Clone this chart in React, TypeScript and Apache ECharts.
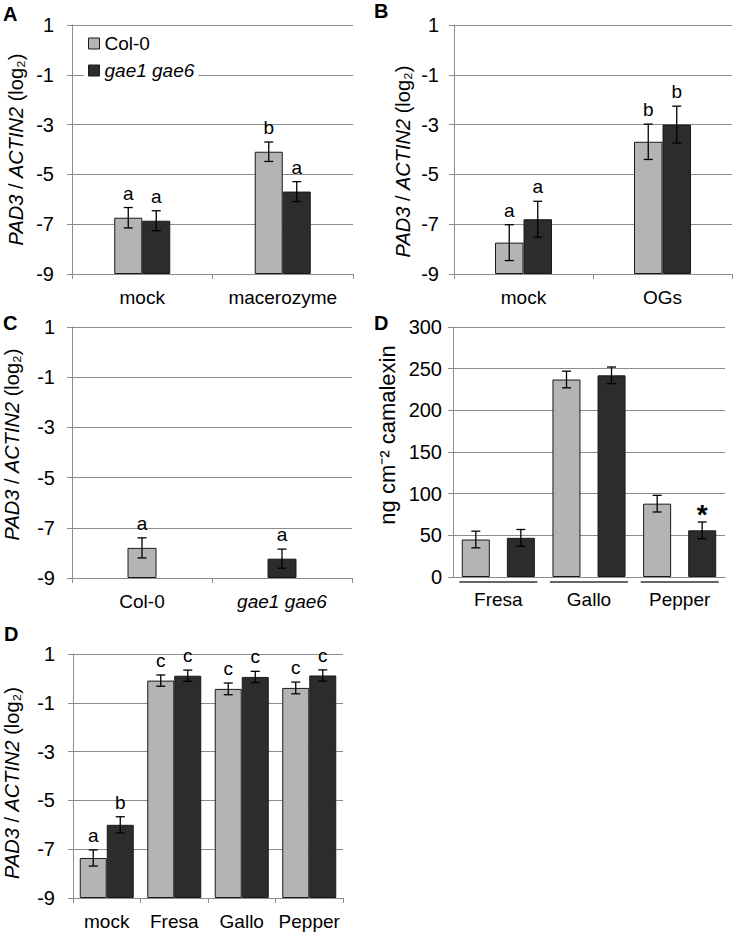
import React, { useEffect, useRef } from 'react';
import * as echarts from 'echarts';

// ---------- data ----------
const LOG_MIN = -9;
const LOG_MAX = 1;
const LOG_STEP = 2;

const A_CATEGORIES = ['mock', 'macerozyme'];
const A_COL0 = [-6.74, -4.09];
const A_COL0_ERR = [0.41, 0.39];
const A_GAE = [-6.86, -5.69];
const A_GAE_ERR = [0.4, 0.4];
const A_COL0_LETTERS = ['a', 'b'];
const A_GAE_LETTERS = ['a', 'a'];

const B_CATEGORIES = ['mock', 'OGs'];
const B_COL0 = [-7.74, -3.69];
const B_COL0_ERR = [0.72, 0.71];
const B_GAE = [-6.8, -3.0];
const B_GAE_ERR = [0.72, 0.74];
const B_COL0_LETTERS = ['a', 'b'];
const B_GAE_LETTERS = ['a', 'b'];

const C_CATEGORIES = ['Col-0', 'gae1 gae6'];
const C_VALUES = [-7.8, -8.23];
const C_ERR = [0.4, 0.38];
const C_LETTERS = ['a', 'a'];

const D1_CATEGORIES = ['Fresa', 'Gallo', 'Pepper'];
const D1_TICKS = [0, 50, 100, 150, 200, 250, 300];
const D1_COL0 = [45, 237, 88];
const D1_COL0_ERR = [10, 10, 10];
const D1_GAE = [47, 242, 56];
const D1_GAE_ERR = [10, 10, 10];
const D1_COL0_MARKS = ['', '', ''];
const D1_GAE_MARKS = ['', '', '*'];

const D2_CATEGORIES = ['mock', 'Fresa', 'Gallo', 'Pepper'];
const D2_COL0 = [-7.36, -0.09, -0.43, -0.39];
const D2_COL0_ERR = [0.33, 0.23, 0.24, 0.24];
const D2_GAE = [-6.0, 0.11, 0.06, 0.12];
const D2_GAE_ERR = [0.33, 0.23, 0.23, 0.23];
const D2_COL0_LETTERS = ['a', 'c', 'c', 'c'];
const D2_GAE_LETTERS = ['b', 'c', 'c', 'c'];

const SERIES_NAMES = ['Col-0', 'gae1 gae6'];

// ---------- styles ----------
const FONT = "'Liberation Sans', Arial, sans-serif";
const LIGHT = '#b4b4b4';
const DARK = '#2c2c2c';
const BORDER = '#1a1a1a';
const GRID_GRAY = '#8c8c8c';
const FS = 19;
const TICK_FS = 20;
const NAME_FS = 20;

const shiftLog = (arr: (number | null)[]) =>
  arr.map((v) => (v == null ? '-' : +(v - LOG_MIN).toFixed(4)));

function logYAxis(gridIndex: number, nameGap: number, margin: number, namePad: number[]) {
  return {
    type: 'value',
    gridIndex,
    min: 0,
    max: LOG_MAX - LOG_MIN,
    interval: LOG_STEP,
    axisLabel: {
      formatter: (v: number) => String(v + LOG_MIN),
      fontSize: TICK_FS,
      color: '#000',
      fontFamily: FONT,
      margin,
    },
    axisLine: { show: true, lineStyle: { color: GRID_GRAY, width: 1 } },
    axisTick: { show: true, length: 5, lineStyle: { color: GRID_GRAY } },
    splitLine: { show: true, lineStyle: { color: GRID_GRAY, width: 1 } },
    name: '{i|PAD3} / {i|ACTIN2} (log₂)',
    nameLocation: 'middle',
    nameGap,
    nameRotate: 90,
    nameTextStyle: {
      fontSize: NAME_FS,
      color: '#000',
      fontFamily: FONT,
      padding: namePad,
      rich: { i: { fontStyle: 'italic', fontSize: NAME_FS, fontFamily: FONT, color: '#000' } },
    },
  };
}

function catXAxis(gridIndex: number, data: string[], showTick = true, margin = 14) {
  return {
    type: 'category',
    gridIndex,
    data,
    axisLabel: {
      fontSize: FS,
      color: '#000',
      fontFamily: FONT,
      margin,
      interval: 0,
      formatter: (v: string) => (v === 'gae1 gae6' ? `{i|${v}}` : v),
      rich: { i: { fontStyle: 'italic', fontSize: FS, fontFamily: FONT, color: '#000' } },
    },
    axisLine: { show: true, lineStyle: { color: GRID_GRAY, width: 1 } },
    axisTick: { show: showTick, length: 5, lineStyle: { color: GRID_GRAY } },
    splitLine: { show: false },
  };
}

function barSeries(name: string, data: any[], gridIndex: number, color: string, barWidth: number, barGap: string) {
  return {
    type: 'bar',
    name,
    xAxisIndex: gridIndex,
    yAxisIndex: gridIndex,
    data,
    barWidth,
    barGap,
    itemStyle: { color, borderColor: BORDER, borderWidth: 1 },
    z: 2,
  };
}

function errSeries(
  gridIndex: number,
  values: any[],
  errs: number[],
  labels: string[],
  offsetX: number,
  labelStyle: any = {},
  labelLift = 5,
) {
  const data = values.map((v, i) => (v === '-' ? null : [i, v, errs[i]])).filter((d) => d);
  const idxs = values.map((v, i) => (v === '-' ? -1 : i)).filter((i) => i >= 0);
  return {
    type: 'custom',
    xAxisIndex: gridIndex,
    yAxisIndex: gridIndex,
    clip: false,
    z: 5,
    data,
    renderItem: (params: any, api: any) => {
      const i = idxs[params.dataIndex];
      const cat = api.value(0);
      const v = api.value(1);
      const e = api.value(2);
      const top = api.coord([cat, v + e]);
      const bot = api.coord([cat, v - e]);
      const x = top[0] + offsetX;
      const cap = 4.5;
      const ls = { stroke: '#000', lineWidth: 1.3 };
      const children: any[] = [
        { type: 'line', shape: { x1: x, y1: top[1], x2: x, y2: bot[1] }, style: ls },
        { type: 'line', shape: { x1: x - cap, y1: top[1], x2: x + cap, y2: top[1] }, style: ls },
        { type: 'line', shape: { x1: x - cap, y1: bot[1], x2: x + cap, y2: bot[1] }, style: ls },
      ];
      const t = labels[i];
      if (t) {
        children.push({
          type: 'text',
          x,
          y: top[1] - labelLift,
          style: {
            text: t,
            fontSize: FS,
            fontFamily: FONT,
            fill: '#000',
            align: 'center',
            verticalAlign: 'bottom',
            ...labelStyle,
          },
        });
      }
      return { type: 'group', children };
    },
  };
}

function buildOption() {
  const grids = [
    { left: 72, top: 25, width: 281, height: 249 }, // A
    { left: 454, top: 25, width: 278, height: 249 }, // B
    { left: 72, top: 327, width: 280, height: 251 }, // C
    { left: 453, top: 327, width: 272, height: 250 }, // D (camalexin)
    { left: 73, top: 654, width: 270, height: 244 }, // D (bottom)
  ];

  const xAxes = [
    catXAxis(0, A_CATEGORIES),
    catXAxis(1, B_CATEGORIES),
    catXAxis(2, C_CATEGORIES),
    catXAxis(3, D1_CATEGORIES, false, 13),
    catXAxis(4, D2_CATEGORIES),
  ];

  const yAxes: any[] = [
    logYAxis(0, 46, 18, [0, 0, 0, 0]),
    logYAxis(1, 41, 15, [0, 24, 0, 0]),
    logYAxis(2, 50, 17, [0, 0, 0, 16]),
    {
      type: 'value',
      gridIndex: 3,
      min: D1_TICKS[0],
      max: D1_TICKS[D1_TICKS.length - 1],
      interval: D1_TICKS[1] - D1_TICKS[0],
      axisLabel: { fontSize: TICK_FS, color: '#000', fontFamily: FONT, margin: 11 },
      axisLine: { show: true, lineStyle: { color: GRID_GRAY, width: 1 } },
      axisTick: { show: true, length: 5, lineStyle: { color: GRID_GRAY } },
      splitLine: { show: true, lineStyle: { color: GRID_GRAY, width: 1 } },
      name: 'ng cm⁻² camalexin',
      nameLocation: 'middle',
      nameGap: 55,
      nameRotate: 90,
      nameTextStyle: { fontSize: 22, color: '#000', fontFamily: FONT, padding: [0, 0, 0, 34] },
    },
    logYAxis(4, 51, 18, [0, 14, 0, 0]),
  ];

  const series: any[] = [];
  // A
  series.push(barSeries(SERIES_NAMES[0], shiftLog(A_COL0), 0, LIGHT, 28, '0%'));
  series.push(barSeries(SERIES_NAMES[1], shiftLog(A_GAE), 0, DARK, 28, '0%'));
  series.push(errSeries(0, shiftLog(A_COL0), A_COL0_ERR, A_COL0_LETTERS, -14));
  series.push(errSeries(0, shiftLog(A_GAE), A_GAE_ERR, A_GAE_LETTERS, 14));
  // B
  series.push(barSeries(SERIES_NAMES[0], shiftLog(B_COL0), 1, LIGHT, 28.5, '0%'));
  series.push(barSeries(SERIES_NAMES[1], shiftLog(B_GAE), 1, DARK, 28.5, '0%'));
  series.push(errSeries(1, shiftLog(B_COL0), B_COL0_ERR, B_COL0_LETTERS, -14.25));
  series.push(errSeries(1, shiftLog(B_GAE), B_GAE_ERR, B_GAE_LETTERS, 14.25));
  // C
  const cCol = shiftLog([C_VALUES[0], null]);
  const cGae = shiftLog([null, C_VALUES[1]]);
  series.push(barSeries(SERIES_NAMES[0], cCol, 2, LIGHT, 29, '-100%'));
  series.push(barSeries(SERIES_NAMES[1], cGae, 2, DARK, 29, '-100%'));
  series.push(errSeries(2, shiftLog(C_VALUES), C_ERR, C_LETTERS, 0));
  // D camalexin
  series.push(barSeries(SERIES_NAMES[0], D1_COL0, 3, LIGHT, 28, '61%'));
  series.push(barSeries(SERIES_NAMES[1], D1_GAE, 3, DARK, 28, '61%'));
  series.push(errSeries(3, D1_COL0, D1_COL0_ERR, D1_COL0_MARKS, -22.5));
  series.push(
    errSeries(3, D1_GAE, D1_GAE_ERR, D1_GAE_MARKS, 22.5, { fontSize: 28, fontWeight: 'bold', verticalAlign: 'middle' }, 8),
  );
  series.push({
    type: 'custom',
    xAxisIndex: 3,
    yAxisIndex: 3,
    clip: false,
    z: 5,
    data: D1_CATEGORIES.map((_, i) => [i, 0]),
    renderItem: (params: any, api: any) => {
      const p = api.coord([api.value(0), 0]);
      return {
        type: 'line',
        shape: { x1: p[0] - 39, y1: p[1] + 5, x2: p[0] + 39, y2: p[1] + 5 },
        style: { stroke: '#333', lineWidth: 1.5 },
      };
    },
  });
  // D bottom
  series.push(barSeries(SERIES_NAMES[0], shiftLog(D2_COL0), 4, LIGHT, 27, '0%'));
  series.push(barSeries(SERIES_NAMES[1], shiftLog(D2_GAE), 4, DARK, 27, '0%'));
  series.push(errSeries(4, shiftLog(D2_COL0), D2_COL0_ERR, D2_COL0_LETTERS, -13.5));
  series.push(errSeries(4, shiftLog(D2_GAE), D2_GAE_ERR, D2_GAE_LETTERS, 13.5));

  const panelLetter = (text: string, x: number, y: number) => ({
    type: 'text',
    left: x,
    top: y,
    style: { text, fontSize: 20, fontWeight: 'bold', fontFamily: FONT, fill: '#000' },
  });

  return {
    animation: false,
    backgroundColor: '#fff',
    grid: grids,
    xAxis: xAxes,
    yAxis: yAxes,
    series,
    legend: {
      data: [
        { name: SERIES_NAMES[0] },
        { name: SERIES_NAMES[1], textStyle: { fontStyle: 'italic' } },
      ],
      orient: 'vertical',
      left: 84,
      top: 32,
      itemWidth: 11,
      itemHeight: 11,
      itemGap: 8,
      icon: 'rect',
      backgroundColor: '#fff',
      padding: [2, 4, 2, 4],
      selectedMode: false,
      textStyle: { fontSize: FS, color: '#000', fontFamily: FONT },
      itemStyle: { borderColor: BORDER, borderWidth: 1 },
    },
    graphic: [
      panelLetter('A', 3, 4),
      panelLetter('B', 374, 1),
      panelLetter('C', 3, 313),
      panelLetter('D', 374, 313),
      panelLetter('D', 4, 624),
    ],
  };
}

export default function App() {
  const ref = useRef<HTMLDivElement>(null);
  useEffect(() => {
    if (!ref.current) return;
    const chart = echarts.init(ref.current, undefined, { renderer: 'svg' });
    chart.setOption(buildOption() as any);
    return () => chart.dispose();
  }, []);
  return (
    <div
      ref={ref}
      style={{ position: 'absolute', left: 0, top: 0, width: 739, height: 934, background: '#fff' }}
    />
  );
}
